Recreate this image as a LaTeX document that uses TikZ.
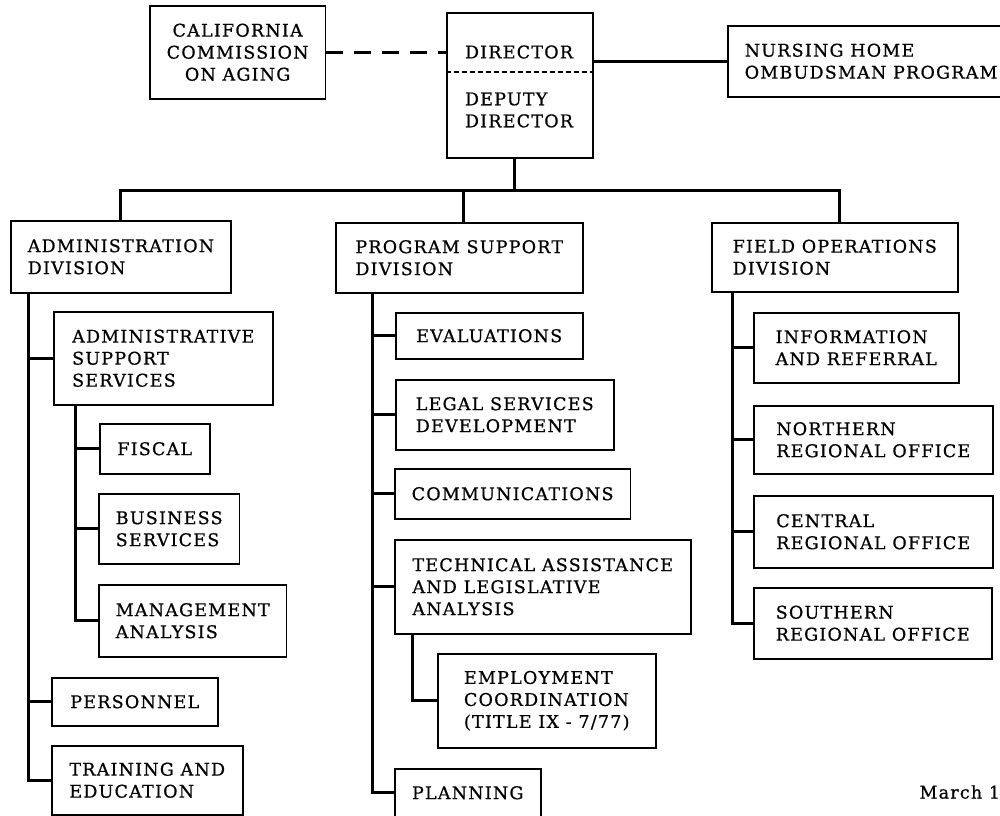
\documentclass[tikz,border=0pt]{standalone}
\usepackage{fontspec}
\setmainfont[LetterSpace=7, FakeBold=0.7]{DejaVu Serif}
\usetikzlibrary{arrows}
\pgfdeclarelayer{edgelayer}
\pgfdeclarelayer{nodelayer}
\pgfsetlayers{edgelayer,nodelayer,main}
\tikzstyle{none}=[]
\tikzstyle{unit}=[draw, line width=1.5pt, anchor=north west, align=left, inner xsep=17pt, inner ysep=2pt]
\tikzstyle{link}=[line width=3pt]
\tikzstyle{advisory}=[line width=2.6pt, dash pattern=on 17pt off 11pt]
\tikzstyle{split}=[line width=1.5pt, dash pattern=on 5pt off 3pt]

\begin{document}
\begin{tikzpicture}[x=1pt, y=-1pt, font=\fontsize{17.5}{22}\selectfont]
	\useasboundingbox (0,0) rectangle (1000,815);
	\begin{pgfonlayer}{nodelayer}
		\node [style=unit, align=center, minimum width=165pt, minimum height=93pt] (cal) at (149,5) {CALIFORNIA\\COMMISSION\\ON AGING};
		\node [style=unit, minimum width=146pt, minimum height=145pt] (dir) at (446,12) {};
		\node [style=none] (dtop) at (519,52) {DIRECTOR};
		\node [style=none, align=left] (ddep) at (519,110) {DEPUTY\\DIRECTOR};
		\node [style=unit, minimum width=277pt, minimum height=71pt] (nurse) at (727,25) {NURSING HOME\\OMBUDSMAN PROGRAM};
		\node [style=unit, minimum width=218pt, minimum height=72pt] (admin) at (10,220) {ADMINISTRATION\\DIVISION};
		\node [style=unit, minimum width=247pt, minimum height=70pt] (prog) at (335,222) {PROGRAM SUPPORT\\DIVISION};
		\node [style=unit, minimum width=246pt, minimum height=69pt] (field) at (711,222) {FIELD OPERATIONS\\DIVISION};
		\node [style=unit, minimum width=219pt, minimum height=93pt] (ass) at (53,311) {ADMINISTRATIVE\\SUPPORT\\SERVICES};
		\node [style=unit, minimum width=110pt, minimum height=50pt] (fiscal) at (99,423) {FISCAL};
		\node [style=unit, minimum width=137pt, minimum height=70pt] (bus) at (98,493) {BUSINESS\\SERVICES};
		\node [style=unit, minimum width=187pt, minimum height=72pt] (mgmt) at (98,584) {MANAGEMENT\\ANALYSIS};
		\node [style=unit, minimum width=166pt, minimum height=48pt] (pers) at (51,677) {PERSONNEL};
		\node [style=unit, minimum width=191pt, minimum height=69pt] (train) at (51,745) {TRAINING AND\\EDUCATION};
		\node [style=unit, minimum width=187pt, minimum height=46pt] (eval) at (395,312) {EVALUATIONS};
		\node [style=unit, minimum width=218pt, minimum height=70pt] (legal) at (395,379) {LEGAL SERVICES\\DEVELOPMENT};
		\node [style=unit, minimum width=232pt, minimum height=50pt] (comm) at (394,468) {COMMUNICATIONS};
		\node [style=unit, minimum width=296pt, minimum height=94pt] (tech) at (394,539) {TECHNICAL ASSISTANCE\\AND LEGISLATIVE\\ANALYSIS};
		\node [style=unit, minimum width=218pt, minimum height=94pt] (emp) at (437,653) {EMPLOYMENT\\COORDINATION\\(TITLE IX - 7/77)};
		\node [style=unit, minimum width=146pt, minimum height=48pt] (plan) at (394,768) {PLANNING};
		\node [style=unit, minimum width=205pt, minimum height=70pt] (info) at (753,312) {INFORMATION\\AND REFERRAL};
		\node [style=unit, minimum width=239pt, minimum height=68pt] (north) at (753,405) {NORTHERN\\REGIONAL OFFICE};
		\node [style=unit, minimum width=239pt, minimum height=72pt] (central) at (753,495) {CENTRAL\\REGIONAL OFFICE};
		\node [style=unit, minimum width=238pt, minimum height=71pt] (south) at (753,587) {SOUTHERN\\REGIONAL OFFICE};
		\node [style=none, anchor=west] (date) at (916,792) {March 1};
	\end{pgfonlayer}
	\begin{pgfonlayer}{edgelayer}
		\coordinate (split) at (0,72);
		\coordinate (bar) at (514,190);
		\draw [style=split] (dir.west |- split) to (dir.east |- split);
		\draw [style=advisory] (cal.east) to (cal.east -| dir.west);
		\draw [style=link] (nurse.west) to (nurse.west -| dir.east);
		\draw [style=link] (dir.south -| bar) to (bar);
		\draw [style=link] (bar) -| (admin.north);
		\draw [style=link] (bar) -| ([xshift=4pt]prog.north);
		\draw [style=link] (bar) -| ([xshift=5pt]field.north);
		\draw [style=link] ([xshift=18pt]admin.south west) |- (ass.west);
		\draw [style=link] ([xshift=18pt]admin.south west) |- (pers.west);
		\draw [style=link] ([xshift=18pt]admin.south west) |- (train.west);
		\draw [style=link] ([xshift=22pt]ass.south west) |- (fiscal.west);
		\draw [style=link] ([xshift=22pt]ass.south west) |- (bus.west);
		\draw [style=link] ([xshift=22pt]ass.south west) |- (mgmt.west);
		\draw [style=link] ([xshift=37pt]prog.south west) |- (eval.west);
		\draw [style=link] ([xshift=37pt]prog.south west) |- (legal.west);
		\draw [style=link] ([xshift=37pt]prog.south west) |- (comm.west);
		\draw [style=link] ([xshift=37pt]prog.south west) |- (tech.west);
		\draw [style=link] ([xshift=37pt]prog.south west) |- (plan.west);
		\draw [style=link] ([xshift=18pt]tech.south west) |- (emp.west);
		\draw [style=link] ([xshift=21pt]field.south west) |- (info.west);
		\draw [style=link] ([xshift=21pt]field.south west) |- (north.west);
		\draw [style=link] ([xshift=21pt]field.south west) |- (central.west);
		\draw [style=link] ([xshift=21pt]field.south west) |- (south.west);
	\end{pgfonlayer}
\end{tikzpicture}
\end{document}
